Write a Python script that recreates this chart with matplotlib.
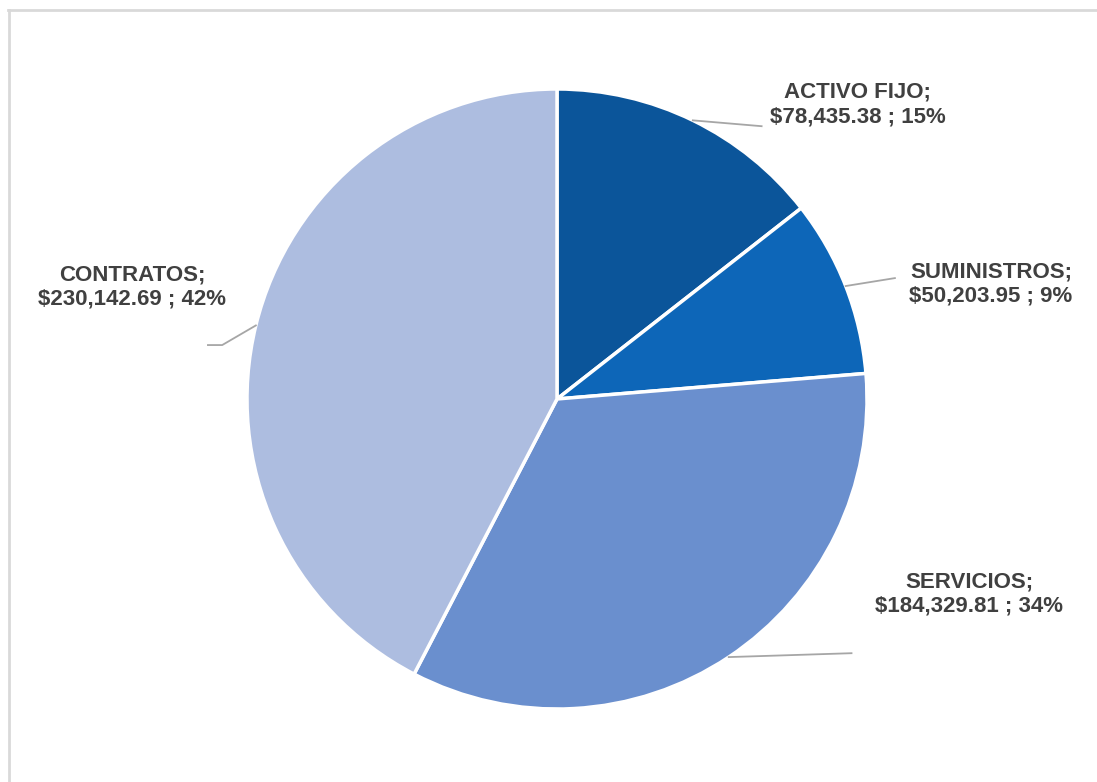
import numpy as np
import matplotlib
matplotlib.use("Agg")
import matplotlib.pyplot as plt
from matplotlib.lines import Line2D

# ── Data ──────────────────────────────────────────────────────────────
categories = ["ACTIVO FIJO", "SUMINISTROS", "SERVICIOS", "CONTRATOS"]
amounts = [78435.38, 50203.95, 184329.81, 230142.69]
percent_labels = ["15%", "9%", "34%", "42%"]
colors = ["#0B559A", "#0D66B8", "#6A8FCE", "#ADBDE0"]

# label text centre (axes data units) for each slice
label_pos = [(0.97, 0.95), (1.40, 0.37), (1.33, -0.63), (-1.37, 0.36)]
# elbow of the leader line (data units)
elbow_pos = [(0.66, 0.88), (1.09, 0.39), (0.95, -0.82), (-1.08, 0.174)]
elbow_end = [(0.66, 0.88), (1.09, 0.39), (0.95, -0.82), (-1.126, 0.174)]

W, H = 1097, 782
fig = plt.figure(figsize=(W / 100, H / 100), dpi=100)
fig.patch.set_facecolor("white")

# light grey frame (only top and left edges are visible)
fig.add_artist(Line2D([8 / W, 1.0], [1 - 10 / H, 1 - 10 / H],
                      transform=fig.transFigure, color="#D9D9D9", lw=2))
fig.add_artist(Line2D([9 / W, 9 / W], [0, 1 - 10 / H],
                      transform=fig.transFigure, color="#D9D9D9", lw=2))

cx, cy, r = 557, 399, 310
ax = fig.add_axes([(cx - r) / W, (H - cy - r) / H, 2 * r / W, 2 * r / H])

wedges, _ = ax.pie(amounts, colors=colors, startangle=90, counterclock=False,
                   radius=1.0, center=(0, 0),
                   wedgeprops=dict(edgecolor="white", linewidth=2.5))
ax.set_xlim(-1, 1)
ax.set_ylim(-1, 1)
ax.set_aspect("equal")
ax.axis("off")

font = ["Liberation Sans", "DejaVu Sans"]

for w, cat, val, pct, lp, ep, ee in zip(wedges, categories, amounts,
                                         percent_labels, label_pos,
                                         elbow_pos, elbow_end):
    ang = np.deg2rad((w.theta1 + w.theta2) / 2)
    x0, y0 = np.cos(ang), np.sin(ang)
    ax.add_line(Line2D([x0, ep[0], ee[0]], [y0, ep[1], ee[1]],
                       color="#A6A6A6", lw=1.3, clip_on=False))
    ax.text(lp[0], lp[1], f"{cat};\n${val:,.2f} ; {pct}",
            ha="center", va="center", fontsize=16, fontweight="bold",
            color="#404040", family=font, linespacing=1.2, clip_on=False)

fig.savefig("out.png", dpi=100, facecolor="white")
